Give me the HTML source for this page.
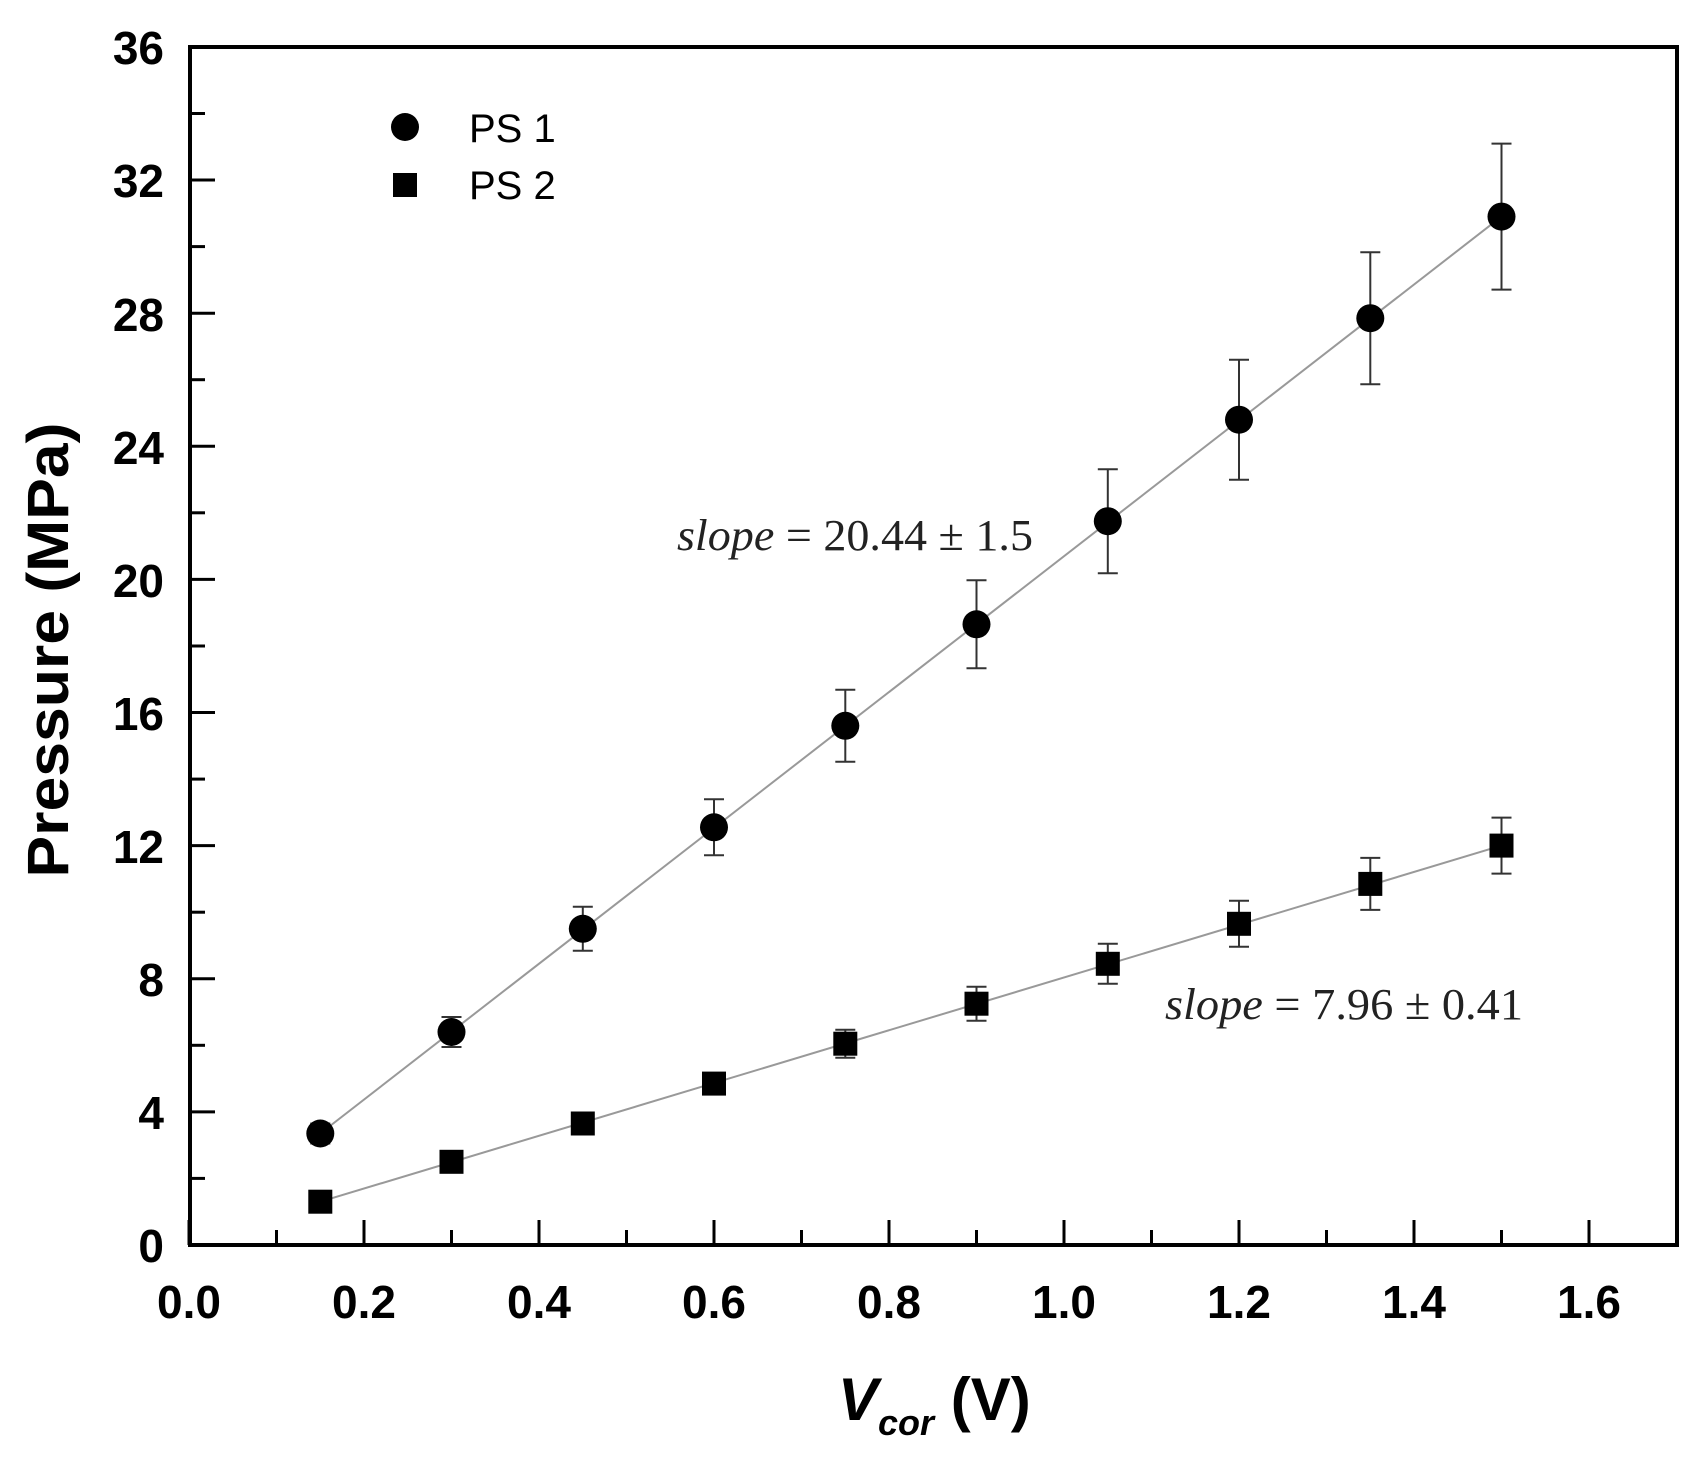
<!DOCTYPE html>
<html><head><meta charset="utf-8"><style>
html,body{margin:0;padding:0;background:#fff;}
svg{display:block;}
</style></head><body>
<svg width="1705" height="1466" viewBox="0 0 1705 1466" xmlns="http://www.w3.org/2000/svg">
<rect width="1705" height="1466" fill="#fff"/>
<g stroke="#000" stroke-width="4">
<rect x="190" y="47" width="1487" height="1198" fill="none"/>
</g>
<g stroke="#000" stroke-width="3">
<line x1="189" y1="1245" x2="189" y2="1220"/>
<line x1="276.5" y1="1245" x2="276.5" y2="1230"/>
<line x1="364" y1="1245" x2="364" y2="1220"/>
<line x1="451.5" y1="1245" x2="451.5" y2="1230"/>
<line x1="539" y1="1245" x2="539" y2="1220"/>
<line x1="626.5" y1="1245" x2="626.5" y2="1230"/>
<line x1="714" y1="1245" x2="714" y2="1220"/>
<line x1="801.5" y1="1245" x2="801.5" y2="1230"/>
<line x1="889" y1="1245" x2="889" y2="1220"/>
<line x1="976.5" y1="1245" x2="976.5" y2="1230"/>
<line x1="1064" y1="1245" x2="1064" y2="1220"/>
<line x1="1151.5" y1="1245" x2="1151.5" y2="1230"/>
<line x1="1239" y1="1245" x2="1239" y2="1220"/>
<line x1="1326.5" y1="1245" x2="1326.5" y2="1230"/>
<line x1="1414" y1="1245" x2="1414" y2="1220"/>
<line x1="1501.5" y1="1245" x2="1501.5" y2="1230"/>
<line x1="1589" y1="1245" x2="1589" y2="1220"/>
</g>
<g stroke="#000" stroke-width="3">
<line x1="190" y1="1111.9" x2="215" y2="1111.9"/>
<line x1="190" y1="978.8" x2="215" y2="978.8"/>
<line x1="190" y1="845.6" x2="215" y2="845.6"/>
<line x1="190" y1="712.5" x2="215" y2="712.5"/>
<line x1="190" y1="579.4" x2="215" y2="579.4"/>
<line x1="190" y1="446.3" x2="215" y2="446.3"/>
<line x1="190" y1="313.2" x2="215" y2="313.2"/>
<line x1="190" y1="180" x2="215" y2="180"/>
<line x1="190" y1="1178.4" x2="205" y2="1178.4"/>
<line x1="190" y1="1045.3" x2="205" y2="1045.3"/>
<line x1="190" y1="912.2" x2="205" y2="912.2"/>
<line x1="190" y1="779.1" x2="205" y2="779.1"/>
<line x1="190" y1="646" x2="205" y2="646"/>
<line x1="190" y1="512.8" x2="205" y2="512.8"/>
<line x1="190" y1="379.7" x2="205" y2="379.7"/>
<line x1="190" y1="246.6" x2="205" y2="246.6"/>
<line x1="190" y1="113.5" x2="205" y2="113.5"/>
</g>
<g font-family="Liberation Sans, Arial, sans-serif" font-weight="bold" font-size="46" text-anchor="end">
<text x="164" y="1262">0</text>
<text x="164" y="1129">4</text>
<text x="164" y="996">8</text>
<text x="164" y="863">12</text>
<text x="164" y="730">16</text>
<text x="164" y="597">20</text>
<text x="164" y="464">24</text>
<text x="164" y="331">28</text>
<text x="164" y="197">32</text>
<text x="164" y="64">36</text>
</g>
<g font-family="Liberation Sans, Arial, sans-serif" font-weight="bold" font-size="46" text-anchor="middle">
<text x="189" y="1318">0.0</text>
<text x="364" y="1318">0.2</text>
<text x="539" y="1318">0.4</text>
<text x="714" y="1318">0.6</text>
<text x="889" y="1318">0.8</text>
<text x="1064" y="1318">1.0</text>
<text x="1239" y="1318">1.2</text>
<text x="1414" y="1318">1.4</text>
<text x="1589" y="1318">1.6</text>
</g>
<text transform="translate(68,650) rotate(-90)" font-family="Liberation Sans, Arial, sans-serif" font-weight="bold" font-size="58" text-anchor="middle" textLength="455" lengthAdjust="spacingAndGlyphs">Pressure (MPa)</text>
<text x="838" y="1420" font-family="Liberation Sans, Arial, sans-serif" font-weight="bold" font-size="60"><tspan font-style="italic">V</tspan><tspan font-style="italic" font-size="36" dy="15">cor</tspan><tspan dy="-15"> (V)</tspan></text>
<polyline fill="none" stroke="#999" stroke-width="2" points="320.3,1133.5 1501.5,216.6"/>
<polyline fill="none" stroke="#999" stroke-width="2" points="320.3,1201.7 1501.5,845.6"/>
<g stroke="#333" stroke-width="2" fill="none">
<path d="M320.3 1123.5V1143.5M451.5 1017V1047M582.8 906.8V950.8M714 799.3V855.3M845.3 689.8V761.8M976.5 580.3V668.3M1107.8 469.2V573.2M1239 359.7V479.7M1370.3 252.2V384.2M1501.5 143.6V289.6"/>
<path d="M310.3 1123.5h20M310.3 1143.5h20M441.5 1017h20M441.5 1047h20M572.8 906.8h20M572.8 950.8h20M704 799.3h20M704 855.3h20M835.3 689.8h20M835.3 761.8h20M966.5 580.3h20M966.5 668.3h20M1097.8 469.2h20M1097.8 573.2h20M1229 359.7h20M1229 479.7h20M1360.3 252.2h20M1360.3 384.2h20M1491.5 143.6h20M1491.5 289.6h20"/>
<path d="M320.3 1196.7V1206.7M451.5 1155.8V1167.8M582.8 1115.5V1131.5M714 1073.6V1093.6M845.3 1029.7V1057.7M976.5 986.7V1020.7M1107.8 943.8V983.8M1239 900.8V946.8M1370.3 857.9V909.9M1501.5 817.6V873.6"/>
<path d="M441.5 1155.8h20M441.5 1167.8h20M572.8 1115.5h20M572.8 1131.5h20M704 1073.6h20M704 1093.6h20M835.3 1029.7h20M835.3 1057.7h20M966.5 986.7h20M966.5 1020.7h20M1097.8 943.8h20M1097.8 983.8h20M1229 900.8h20M1229 946.8h20M1360.3 857.9h20M1360.3 909.9h20M1491.5 817.6h20M1491.5 873.6h20"/>
</g>
<g fill="#000">
<circle cx="320.3" cy="1133.5" r="14"/><circle cx="451.5" cy="1032" r="14"/><circle cx="582.8" cy="928.8" r="14"/><circle cx="714" cy="827.3" r="14"/><circle cx="845.3" cy="725.8" r="14"/><circle cx="976.5" cy="624.3" r="14"/><circle cx="1107.8" cy="521.2" r="14"/><circle cx="1239" cy="419.7" r="14"/><circle cx="1370.3" cy="318.2" r="14"/><circle cx="1501.5" cy="216.6" r="14"/>
<rect x="308.3" y="1189.7" width="24" height="24"/><rect x="439.5" y="1149.8" width="24" height="24"/><rect x="570.8" y="1111.5" width="24" height="24"/><rect x="702" y="1071.6" width="24" height="24"/><rect x="833.3" y="1031.7" width="24" height="24"/><rect x="964.5" y="991.7" width="24" height="24"/><rect x="1095.8" y="951.8" width="24" height="24"/><rect x="1227" y="911.8" width="24" height="24"/><rect x="1358.3" y="871.9" width="24" height="24"/><rect x="1489.5" y="833.6" width="24" height="24"/>
<circle cx="405" cy="127" r="14"/>
<rect x="393" y="173" width="24" height="24"/>
</g>
<g font-family="Liberation Sans, Arial, sans-serif" font-size="40">
<text x="469" y="142">PS 1</text>
<text x="469" y="199">PS 2</text>
</g>
<g font-family="Liberation Serif, 'Times New Roman', serif" font-size="44" fill="#222">
<text x="677" y="550" textLength="356" lengthAdjust="spacingAndGlyphs"><tspan font-style="italic">slope</tspan> = 20.44 ± 1.5</text>
<text x="1165" y="1019" textLength="358" lengthAdjust="spacingAndGlyphs"><tspan font-style="italic">slope</tspan> = 7.96 ± 0.41</text>
</g>
</svg>
</body></html>
